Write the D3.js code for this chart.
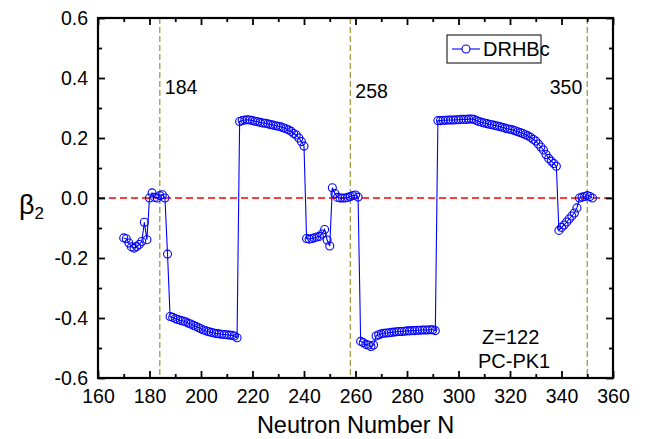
<!DOCTYPE html>
<html>
<head>
<meta charset="utf-8">
<script src="https://cdn.jsdelivr.net/npm/d3@7/dist/d3.min.js"></script>
<style>
  body { margin: 0; background: #fff; }
  text { font-family: "Liberation Sans", Arial, sans-serif; fill: #000; }
</style>
</head>
<body>
<div id="chart"></div>
<script>
// neutron numbers and deformation beta2 (Z=122, PC-PK1)
var neutronNumber = [
  170,171,172,173,174,175,176,177,178,179,180,181,182,183,184,185,186,187,
  188,189,190,191,192,193,194,195,196,197,198,199,200,201,202,203,204,205,206,207,208,209,210,211,212,213,214,
  215,216,217,218,219,220,221,222,223,224,225,226,227,228,229,230,231,232,233,234,235,236,237,238,239,240,
  241,242,243,244,245,246,247,248,249,250,
  251,252,253,254,255,256,257,258,259,260,261,
  262,263,264,265,266,267,268,269,270,271,272,273,274,275,276,277,278,279,280,281,282,283,284,285,286,287,288,289,290,291,
  292,293,294,295,296,297,298,299,300,301,302,303,304,305,306,307,308,309,310,311,312,313,314,315,316,317,318,319,320,
  321,322,323,324,325,326,327,328,329,330,331,332,333,334,335,336,337,338,
  339,340,341,342,343,344,345,346,347,348,349,350,351,352
];
var beta2 = [
  -0.133,-0.136,-0.150,-0.163,-0.167,-0.162,-0.155,-0.145,-0.081,-0.139,0.000,0.017,0.002,0.000,0.008,0.011,0.000,-0.187,
  -0.395,-0.398,-0.402,-0.405,-0.408,-0.410,-0.413,-0.417,-0.420,-0.424,-0.428,-0.432,-0.436,-0.440,-0.443,-0.446,-0.448,-0.450,-0.452,-0.453,-0.454,-0.455,-0.456,-0.457,-0.458,-0.460,-0.466,
  0.255,0.258,0.260,0.261,0.260,0.258,0.256,0.254,0.252,0.250,0.249,0.247,0.245,0.243,0.241,0.239,0.237,0.234,0.231,0.227,0.222,0.215,0.210,0.200,0.188,0.173,
  -0.135,-0.137,-0.135,-0.133,-0.130,-0.128,-0.120,-0.105,-0.140,-0.160,
  0.034,0.015,0.002,0.000,0.000,0.000,0.002,0.005,0.008,0.010,0.003,
  -0.478,-0.482,-0.488,-0.490,-0.495,-0.490,-0.460,-0.456,-0.453,-0.451,-0.450,-0.449,-0.448,-0.447,-0.446,-0.445,-0.445,-0.444,-0.443,-0.443,-0.442,-0.442,-0.441,-0.441,-0.440,-0.440,-0.440,-0.439,-0.439,-0.442,
  0.258,0.258,0.259,0.259,0.260,0.260,0.260,0.261,0.261,0.262,0.262,0.262,0.263,0.263,0.262,0.258,0.255,0.252,0.250,0.248,0.246,0.244,0.242,0.240,0.238,0.236,0.233,0.231,0.229,
  0.227,0.224,0.221,0.218,0.215,0.211,0.207,0.202,0.196,0.190,0.180,0.170,0.160,0.145,0.132,0.123,0.115,0.106,
  -0.108,-0.098,-0.090,-0.080,-0.070,-0.060,-0.050,-0.033,0.000,0.003,0.005,0.008,0.005,0.000
];
var shellClosures = [184, 258, 350];
var shellLabels = ["184", "258", "350"];
var xTicks = [160, 180, 200, 220, 240, 260, 280, 300, 320, 340, 360];
var yTicks = [-0.6, -0.4, -0.2, 0.0, 0.2, 0.4, 0.6];

var data = neutronNumber.map(function(n, i) { return { n: n, b: beta2[i] }; });

var svgWidth = 645, svgHeight = 439;
var margin = { top: 18, right: 32, bottom: 61, left: 98 };
var width = svgWidth - margin.left - margin.right;
var height = svgHeight - margin.top - margin.bottom;

var svg = d3.select("#chart").append("svg")
  .attr("width", svgWidth)
  .attr("height", svgHeight);

var g = svg.append("g")
  .attr("transform", `translate(${margin.left}, ${margin.top})`);

var x = d3.scaleLinear().domain([160, 360]).range([0, width]);
var y = d3.scaleLinear().domain([-0.6, 0.6]).range([height, 0]);

var fmtY = function(d) { return d3.format(".1f")(d).replace("\u2212", "-"); };

// zero line
g.append("line")
  .attr("x1", 0).attr("x2", width)
  .attr("y1", y(0)).attr("y2", y(0))
  .attr("stroke", "#ff0000").attr("stroke-width", 1.3)
  .attr("stroke-dasharray", "7,4");

// shell closures
g.selectAll("line.shell").data(shellClosures).enter()
  .append("line").attr("class", "shell")
  .attr("x1", d => x(d)).attr("x2", d => x(d))
  .attr("y1", 0).attr("y2", height)
  .attr("stroke", "#9d9d45").attr("stroke-width", 1.3)
  .attr("stroke-dasharray", "6,3");

g.selectAll("text.shell").data(shellClosures).enter()
  .append("text").attr("class", "shell")
  .attr("x", (d, i) => i === 2 ? x(d) - 5 : x(d) + 5)
  .attr("y", (d, i) => i === 1 ? 80 : 76)
  .attr("text-anchor", (d, i) => i === 2 ? "end" : "start")
  .attr("font-size", "19.5px")
  .text((d, i) => shellLabels[i]);

// series
var line = d3.line().x(d => x(d.n)).y(d => y(d.b));
g.append("path").datum(data)
  .attr("d", line)
  .attr("fill", "none")
  .attr("stroke", "#0000ff")
  .attr("stroke-width", 1.1);

g.selectAll("circle.pt").data(data).enter()
  .append("circle").attr("class", "pt")
  .attr("cx", d => x(d.n)).attr("cy", d => y(d.b))
  .attr("r", 4)
  .attr("fill", "none")
  .attr("stroke", "#0000ff")
  .attr("stroke-width", 1.1);

// axes (ticks inward, mirrored)
function styleAxis(sel) {
  sel.select(".domain").remove();
  sel.selectAll("line").attr("stroke", "#000").attr("stroke-width", 1.8);
}
var xMinor = d3.range(170, 360, 20);
var yMinor = [-0.5, -0.3, -0.1, 0.1, 0.3, 0.5];

var bottom = g.append("g").attr("transform", `translate(0, ${height})`)
  .call(d3.axisBottom(x).tickValues(xTicks).tickSizeInner(-7).tickSizeOuter(0).tickPadding(11));
styleAxis(bottom);
bottom.selectAll("text").attr("font-size", "19.5px").attr("fill", "#000");

g.append("g").attr("transform", `translate(0, ${height})`)
  .call(d3.axisBottom(x).tickValues(xMinor).tickSize(-4).tickFormat(""))
  .call(styleAxis);
g.append("g")
  .call(d3.axisTop(x).tickValues(xTicks).tickSize(-7).tickFormat(""))
  .call(styleAxis);
g.append("g")
  .call(d3.axisTop(x).tickValues(xMinor).tickSize(-4).tickFormat(""))
  .call(styleAxis);

var left = g.append("g")
  .call(d3.axisLeft(y).tickValues(yTicks).tickSizeInner(-7).tickSizeOuter(0).tickPadding(10).tickFormat(fmtY));
styleAxis(left);
left.selectAll("text").attr("font-size", "19.5px").attr("fill", "#000");

g.append("g")
  .call(d3.axisLeft(y).tickValues(yMinor).tickSize(-4).tickFormat(""))
  .call(styleAxis);
g.append("g").attr("transform", `translate(${width}, 0)`)
  .call(d3.axisRight(y).tickValues(yTicks).tickSize(-7).tickFormat(""))
  .call(styleAxis);
g.append("g").attr("transform", `translate(${width}, 0)`)
  .call(d3.axisRight(y).tickValues(yMinor).tickSize(-4).tickFormat(""))
  .call(styleAxis);

// frame
g.append("rect")
  .attr("width", width).attr("height", height)
  .attr("fill", "none").attr("stroke", "#000").attr("stroke-width", 2.2);

// legend
var lg = svg.append("g").attr("transform", "translate(447, 35)");
lg.append("rect").attr("width", 94).attr("height", 28)
  .attr("fill", "#fff").attr("stroke", "#000").attr("stroke-width", 1);
lg.append("line").attr("x1", 5).attr("x2", 33).attr("y1", 14).attr("y2", 14)
  .attr("stroke", "#0000ff").attr("stroke-width", 1.1);
lg.append("circle").attr("cx", 19).attr("cy", 14).attr("r", 4)
  .attr("fill", "#fff").attr("stroke", "#0000ff").attr("stroke-width", 1.1);
lg.append("text").attr("x", 36).attr("y", 21).attr("font-size", "20px").text("DRHBc");

// annotations
svg.append("text").attr("x", 482).attr("y", 344).attr("font-size", "20px").text("Z=122");
svg.append("text").attr("x", 478).attr("y", 368).attr("font-size", "20px").text("PC-PK1");

// axis titles
svg.append("text")
  .attr("x", margin.left + width / 2).attr("y", 433)
  .attr("text-anchor", "middle").attr("font-size", "23.5px")
  .text("Neutron Number N");

var yl = svg.append("text").attr("x", 19).attr("y", 214).attr("font-size", "27px");
yl.append("tspan").text("β");
yl.append("tspan").attr("font-size", "17px").attr("dy", 5).text("2");
</script>
</body>
</html>
